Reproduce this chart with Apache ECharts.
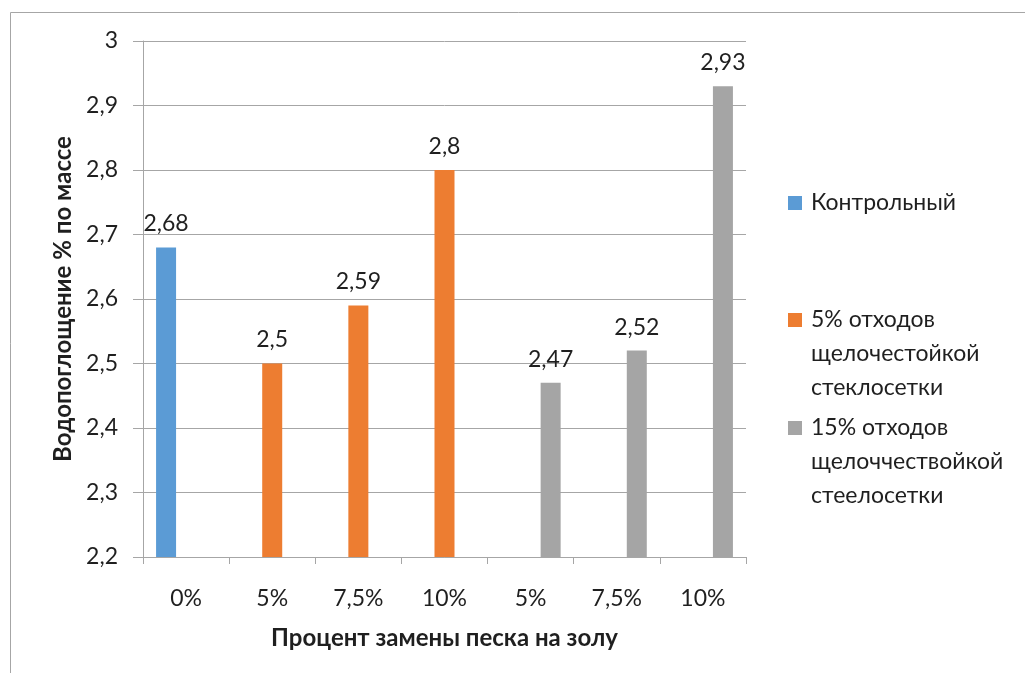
<!DOCTYPE html>
<html>
<head>
<meta charset="utf-8">
<script src="https://cdn.jsdelivr.net/npm/echarts@6/dist/echarts.min.js"></script>
<style>
  html, body { margin: 0; padding: 0; background: #fff; }
  #chart { width: 1025px; height: 673px; }
</style>
</head>
<body>
<div id="chart"></div>
<script>
// Водопоглощение по процентам замены песка на золу
const categories = ['0%', '5%', '7,5%', '10%', '5%', '7,5%', '10%']
const seriesNames = [
    'Контрольный',
    '5% отходов\nщелочестойкой\nстеклосетки',
    '15% отходов\nщелоччествойкой\nстеелосетки'
]
const controlValues = [2.68, null, null, null, null, null, null]
const waste5Values = [null, 2.5, 2.59, 2.8, null, null, null]
const waste15Values = [null, null, null, null, 2.47, 2.52, 2.93]
const colors = ['#5b9bd5', '#ed7d31', '#a5a5a5']

const FONT = 'Lato'
const TEXT = '#1f1f1f'
const GRID_LINE = '#a6a6a6'
const LINE_H = 34

const chart = echarts.init(document.getElementById('chart'))

const comma = v => String(+(+v).toFixed(2)).replace('.', ',')

const makeSeries = (name, data, color) => ({
    name: name,
    type: 'bar',
    data: data,
    barWidth: 20,
    barGap: '0%',
    itemStyle: { color: color },
    label: {
        show: true,
        position: 'top',
        distance: 12,
        color: TEXT,
        fontFamily: FONT,
        fontSize: 23,
        formatter: p => comma(p.value)
    }
})

// значок-квадрат у первой строки: путь с невидимыми точками по углам задаёт размер
const iconPath = h =>
    'path://M0 0h0.01v0.01h-0.01z M0 10h14v14h-14z M17.99 ' + (h - 0.01) + 'h0.01v0.01h-0.01z'

// одна легенда на пункт
const makeLegend = (name, top, lines) => ({
    orient: 'vertical',
    left: 788,
    top: top,
    padding: 0,
    itemWidth: 18,
    itemHeight: lines * LINE_H,
    icon: iconPath(lines * LINE_H),
    selectedMode: false,
    data: [name],
    textStyle: {
        color: TEXT,
        fontFamily: FONT,
        fontSize: 23,
        lineHeight: LINE_H
    }
})

const option = {
    backgroundColor: '#fff',
    animation: false,
    color: colors,
    graphic: [{
        type: 'rect',
        shape: { x: 10.5, y: 12.5, width: 1200, height: 1000 },
        style: { fill: 'none', stroke: '#a6a6a6', lineWidth: 1 },
        silent: true
    }],
    legend: [
        makeLegend(seriesNames[0], 186, 1),
        makeLegend(seriesNames[1], 303, 3),
        makeLegend(seriesNames[2], 411, 3)
    ],
    grid: {
        left: 143,
        right: 279,
        top: 41,
        bottom: 116
    },
    xAxis: {
        type: 'category',
        data: categories,
        name: 'Процент замены песка на золу',
        nameLocation: 'middle',
        nameGap: 69,
        nameTextStyle: {
            color: TEXT,
            fontFamily: FONT,
            fontSize: 24,
            fontWeight: 'bold'
        },
        axisLine: { lineStyle: { color: GRID_LINE, width: 1 } },
        axisTick: { show: true, length: 7, lineStyle: { color: GRID_LINE } },
        axisLabel: {
            color: TEXT,
            fontFamily: FONT,
            fontSize: 23,
            margin: 30,
            interval: 0
        }
    },
    yAxis: {
        type: 'value',
        min: 2.2,
        max: 3,
        interval: 0.1,
        name: 'Водопоглощение % по массе',
        nameLocation: 'middle',
        nameGap: 67,
        nameTextStyle: {
            color: TEXT,
            fontFamily: FONT,
            fontSize: 24,
            fontWeight: 'bold'
        },
        axisLine: { show: true, lineStyle: { color: GRID_LINE, width: 1 } },
        axisTick: { show: true, length: 10, lineStyle: { color: GRID_LINE } },
        splitLine: { lineStyle: { color: GRID_LINE, width: 1 } },
        axisLabel: {
            color: TEXT,
            fontFamily: FONT,
            fontSize: 23,
            margin: 25,
            formatter: comma
        }
    },
    series: [
        makeSeries(seriesNames[0], controlValues, colors[0]),
        makeSeries(seriesNames[1], waste5Values, colors[1]),
        makeSeries(seriesNames[2], waste15Values, colors[2])
    ]
}

chart.setOption(option)
</script>
</body>
</html>
